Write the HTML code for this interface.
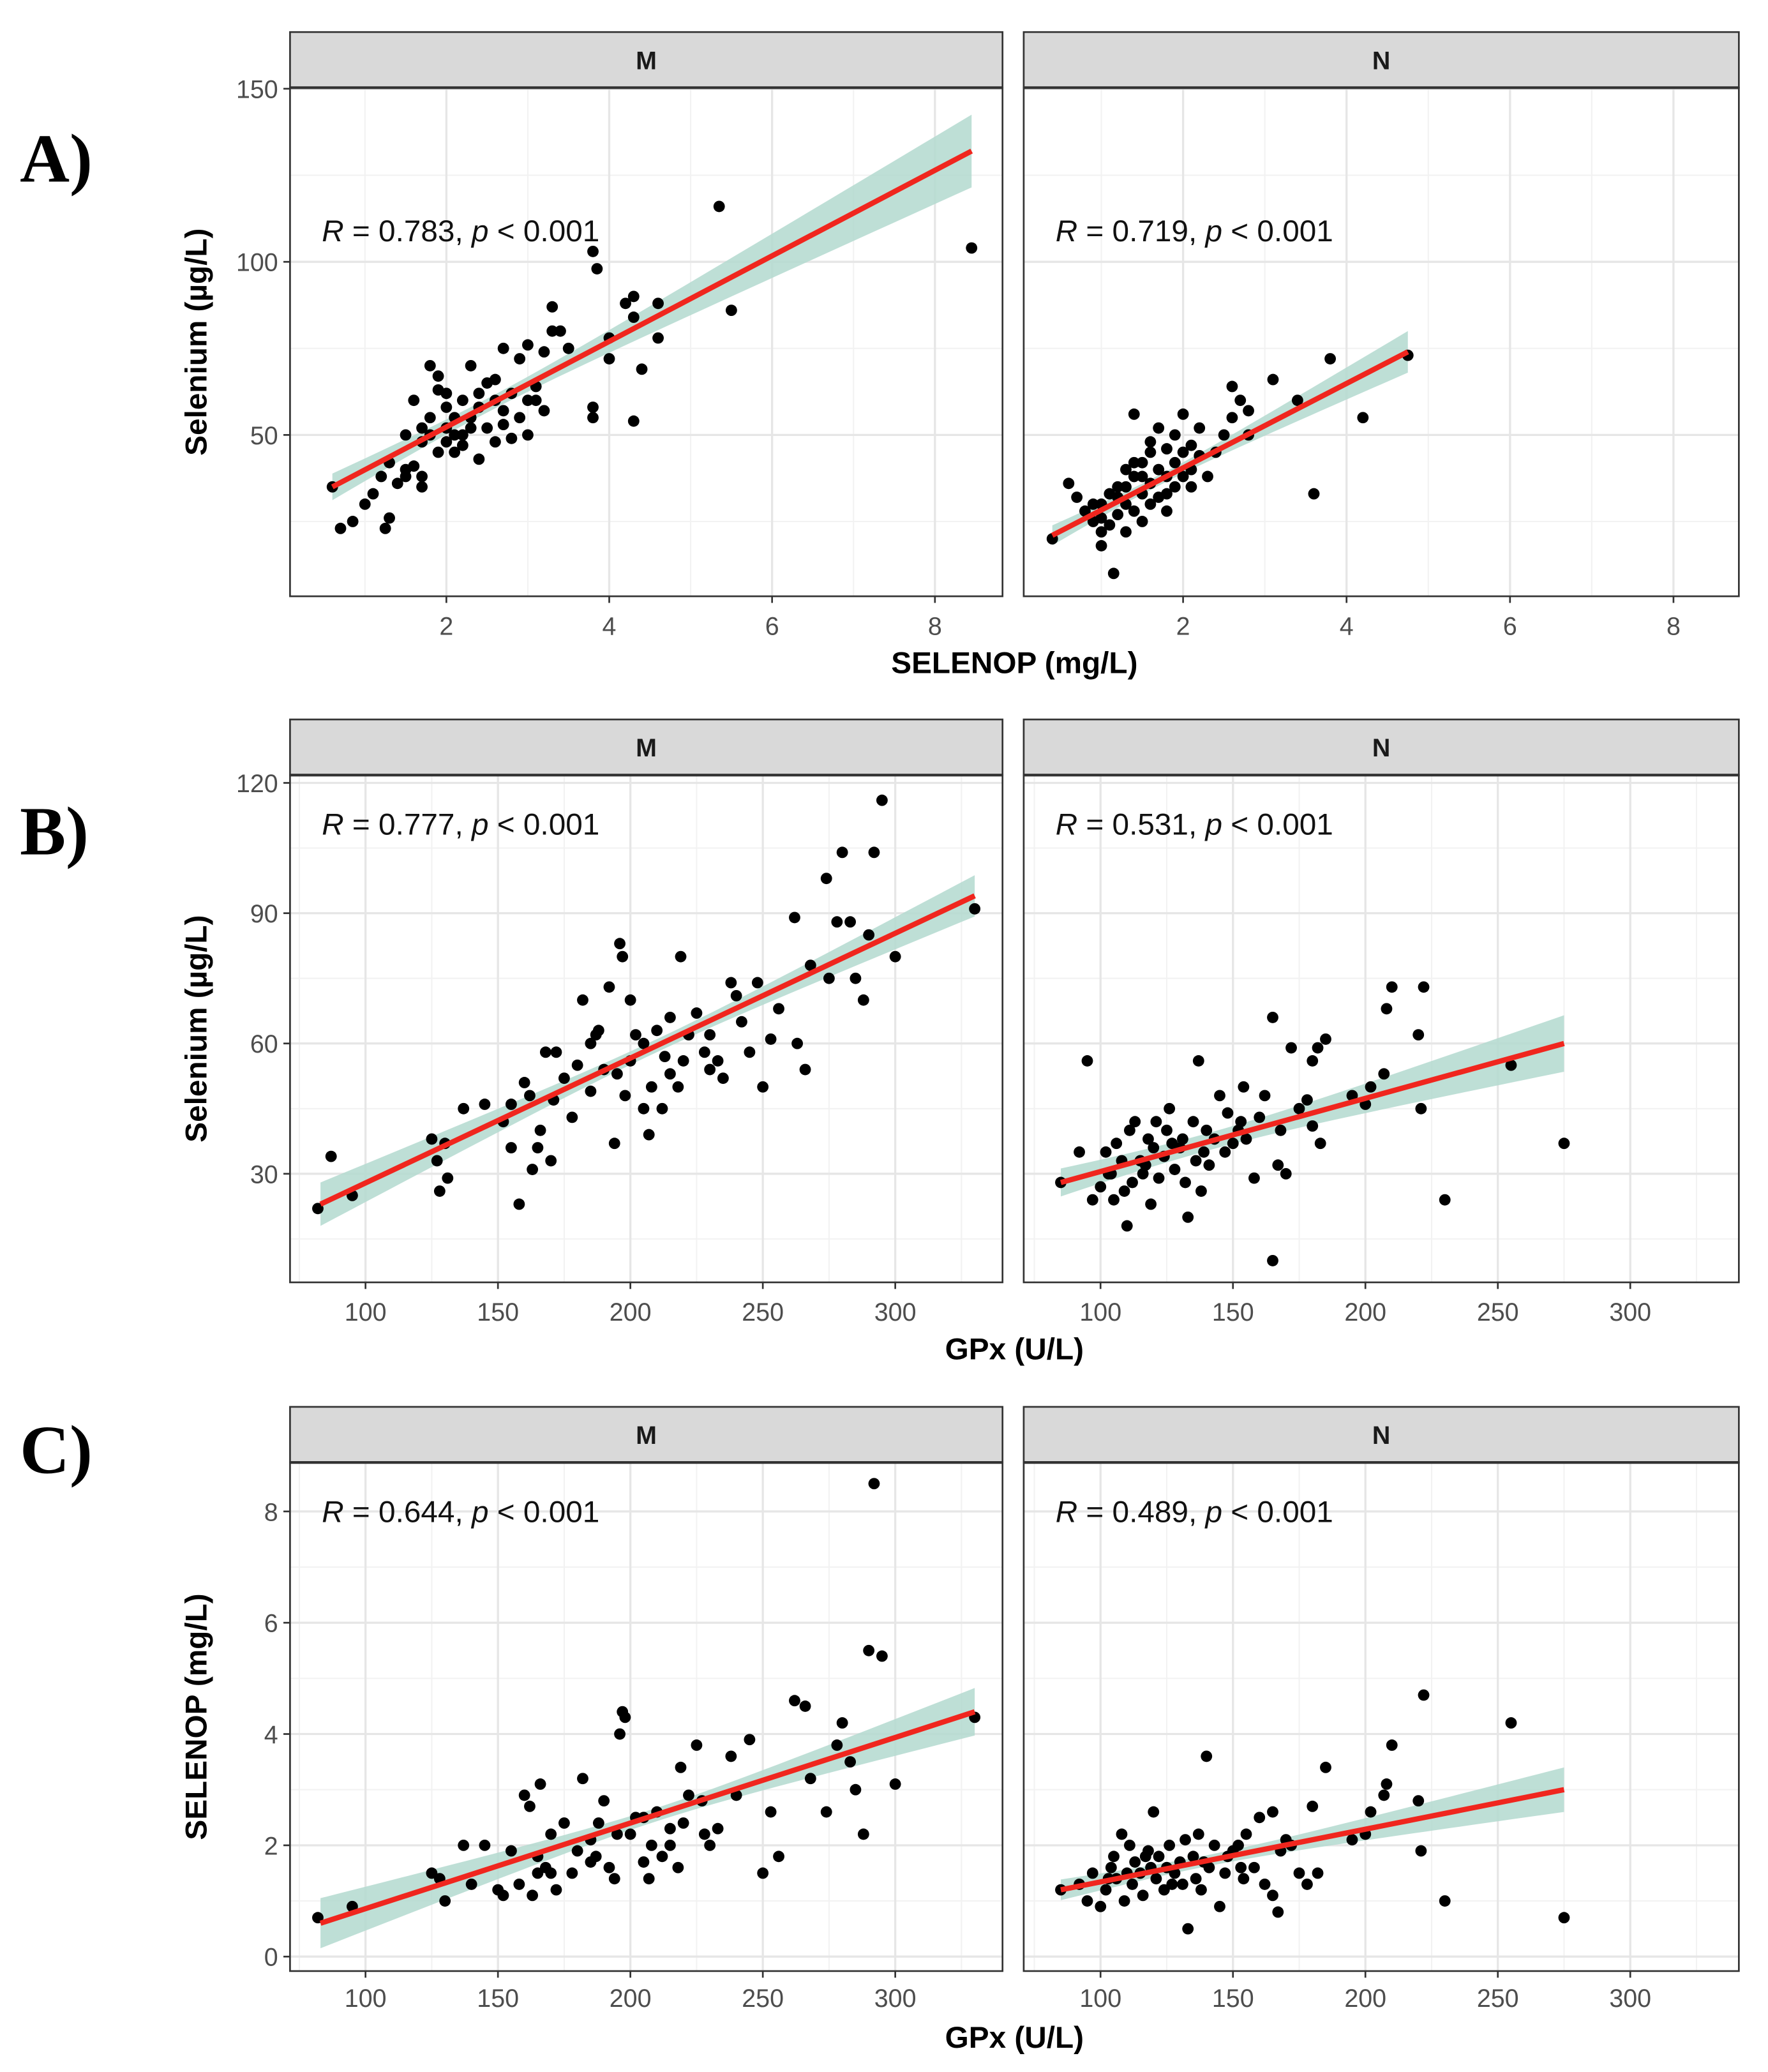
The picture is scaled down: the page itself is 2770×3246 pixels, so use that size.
<!DOCTYPE html>
<html><head><meta charset="utf-8"><style>
html,body{margin:0;padding:0;background:#fff;}
svg{display:block;font-family:"Liberation Sans",Arial,sans-serif;}
</style></head><body>
<svg id="fig" width="2770" height="3246" viewBox="0 0 1335 1564" xmlns="http://www.w3.org/2000/svg">
<rect width="1335" height="1564" fill="#fff"/>
</svg>
<script>
// ---- Data ----
const facetLabels = ["M", "N"];
const rowLabels = ["A)", "B)", "C)"];
const yTitles = ["Selenium (µg/L)", "Selenium (µg/L)", "SELENOP (mg/L)"];
const xTitles = ["SELENOP (mg/L)", "GPx (U/L)", "GPx (U/L)"];
const annotations = [
  ["0.783", "0.719"],
  ["0.777", "0.531"],
  ["0.644", "0.489"]
];
const xTicksA = [2, 4, 6, 8];
const yTicksA = [50, 100, 150];
const xTicksB = [100, 150, 200, 250, 300];
const yTicksB = [30, 60, 90, 120];
const xTicksC = [100, 150, 200, 250, 300];
const yTicksC = [0, 2, 4, 6, 8];

const aM_x = [0.6,0.7,0.85,1,1.1,1.2,1.3,1.25,1.3,1.4,1.5,1.5,1.6,1.7,1.7,1.5,1.6,1.7,1.8,1.8,1.9,1.9,2,2,2,2.1,2.1,2.2,2.2,2.3,2.3,2.4,2.4,2.4,2.5,2.5,2.6,2.6,2.7,2.7,2.8,2.8,2.9,2.9,3,3,3,3.1,3.2,3.2,3.3,3.3,3.4,3.5,3.8,3.8,3.8,3.85,4,4,4.2,4.3,4.3,4.3,4.4,4.6,4.6,5.35,5.5,8.45,1.9,2.2,1.8,2.6,2.0,2.3,2.7,1.7,2.1,3.1];
const aM_y = [35,23,25,30,33,38,42,23,26,36,40,38,41,35,38,50,60,52,50,70,67,63,58,52,48,45,55,60,50,70,55,62,58,43,65,52,60,66,75,57,49,62,72,55,76,60,50,64,74,57,80,87,80,75,55,58,103,98,78,72,88,90,84,54,69,88,78,116,86,104,45,47,55,48,62,52,53,48,50,60];
const aN_x = [0.4,0.6,0.7,0.8,0.9,1,1,1,1.1,1.1,1.15,1.2,1.2,1.3,1.3,1.3,1.4,1.4,1.4,1.5,1.5,1.5,1.6,1.6,1.6,1.7,1.7,1.7,1.8,1.8,1.8,1.9,1.9,1.9,2,2,2,2.1,2.1,2.2,2.3,2.4,2.5,2.6,2.6,2.7,2.8,2.8,3.1,3.4,3.6,3.8,4.2,4.75,1.2,1.5,1.6,1.8,2.1,1.0,1.3,1.4,2.2,0.9];
const aN_y = [20,36,32,28,25,22,30,18,24,33,10,27,35,30,40,22,38,28,56,42,33,25,45,36,30,40,32,52,46,38,28,42,50,35,45,38,56,47,40,44,38,45,50,55,64,60,57,50,66,60,33,72,55,73,32,38,48,33,35,26,35,42,52,30];
const bM_x = [82,87,95,125,127,128,130,131,137,145,152,155,155,158,160,162,163,165,166,168,170,171,172,175,178,180,182,185,187,190,192,194,196,197,198,200,200,202,205,207,208,210,212,213,215,218,219,220,222,225,228,230,233,235,238,240,242,245,248,250,253,256,262,263,266,268,274,275,278,280,283,285,288,290,292,295,300,330,188,205,215,230,185,195];
const bM_y = [22,34,25,38,33,26,37,29,45,46,42,36,46,23,51,48,31,36,40,58,33,47,58,52,43,55,70,49,62,54,73,37,83,80,48,56,70,62,60,39,50,63,45,57,66,50,80,56,62,67,58,62,56,52,74,71,65,58,74,50,61,68,89,60,54,78,98,75,88,104,88,75,70,85,104,116,80,91,63,45,53,54,60,53];
const bN_x = [85,92,95,97,100,102,104,105,106,108,109,110,111,112,113,115,116,118,119,120,121,122,124,125,126,128,130,131,132,133,135,136,137,138,140,141,143,145,147,148,150,152,154,155,158,160,162,165,165,167,170,172,175,178,180,180,182,183,185,195,200,202,207,208,210,220,221,222,230,255,275,103,117,127,139,153,168];
const bN_y = [28,35,56,24,27,35,30,24,37,33,26,18,40,28,42,33,30,38,23,36,42,29,34,40,45,31,36,38,28,20,42,33,56,26,40,32,38,48,35,44,37,40,50,38,29,43,48,10,66,32,30,59,45,47,41,56,59,37,61,48,46,50,53,68,73,62,45,73,24,55,37,30,32,37,35,42,40];
const cM_x = [82,95,125,128,130,137,145,150,152,155,158,160,162,163,165,166,168,170,172,175,178,180,182,185,187,190,192,194,196,197,198,200,202,205,207,208,210,212,215,218,219,220,222,225,228,230,233,238,240,245,250,253,256,262,266,268,274,278,280,283,285,288,290,292,295,300,330,188,205,215,185,195,170,227,140,165];
const cM_y = [0.7,0.9,1.5,1.4,1.0,2.0,2.0,1.2,1.1,1.9,1.3,2.9,2.7,1.1,1.8,3.1,1.6,2.2,1.2,2.4,1.5,1.9,3.2,2.1,1.8,2.8,1.6,1.4,4.0,4.4,4.3,2.2,2.5,1.7,1.4,2.0,2.6,1.8,2.3,1.6,3.4,2.4,2.9,3.8,2.2,2.0,2.3,3.6,2.9,3.9,1.5,2.6,1.8,4.6,4.5,3.2,2.6,3.8,4.2,3.5,3.0,2.2,5.5,8.5,5.4,3.1,4.3,2.4,2.5,2.0,1.7,2.2,1.5,2.8,1.3,1.5];
const cN_x = [85,92,95,97,100,102,104,105,106,108,109,110,111,112,113,115,116,118,119,120,121,122,124,125,126,128,130,131,132,133,135,136,137,138,140,141,143,145,147,148,150,152,154,155,158,160,162,165,165,167,170,172,175,178,180,182,185,195,200,202,207,208,210,220,221,222,230,255,275,103,117,127,139,153,168];
const cN_y = [1.2,1.3,1.0,1.5,0.9,1.2,1.6,1.8,1.4,2.2,1.0,1.5,2.0,1.3,1.7,1.5,1.1,1.9,1.6,2.6,1.4,1.8,1.2,1.6,2.0,1.5,1.7,1.3,2.1,0.5,1.8,1.4,2.2,1.2,3.6,1.6,2.0,0.9,1.5,1.8,1.9,2.0,1.4,2.2,1.6,2.5,1.3,1.1,2.6,0.8,2.1,2.0,1.5,1.3,2.7,1.5,3.4,2.1,2.2,2.6,2.9,3.1,3.8,2.8,1.9,4.7,1.0,4.2,0.7,1.4,1.8,1.3,1.7,1.6,1.9];

// fit: [x0, y0, x1, y1] line endpoints
const fitA = [[0.6, 35, 8.45, 132], [0.4, 21, 4.75, 74]];
const fitB = [[83, 23, 330, 94], [85, 28, 275, 60]];
const fitC = [[83, 0.6, 330, 4.4], [85, 1.2, 275, 3.0]];
// band: [xMean, halfAtMean, halfAtEnd]
const bandA = [[2.5, 2, 10.5], [1.7, 1.5, 6]];
const bandB = [[210, 1.5, 5], [140, 2, 6.5]];
const bandC = [[210, 0.12, 0.45], [140, 0.1, 0.4]];

// ---- Layout (in 1335x1564 viewBox units) ----
const NS = "http://www.w3.org/2000/svg";
const svg = document.getElementById("fig");
function mk(tag, attrs, parent) {
  const e = document.createElementNS(NS, tag);
  for (const k in attrs) e.setAttribute(k, attrs[k]);
  (parent || svg).appendChild(e);
  return e;
}
const panelsX = [[219, 757], [773, 1313]];
const rows = [
  {strip: 24, top: 66, bot: 450, xd: [[0.08, 8.83], [0.05, 8.8]], yd: [3.4, 150.3], xt: xTicksA, yt: yTicksA, xminor: [1,3,5,7], yminor: [25,75,125], tickY: 472, titleY: 500, labelY: 137,
   data: [[aM_x, aM_y], [aN_x, aN_y]], fit: fitA, band: bandA, annY: 174},
  {strip: 543, top: 585, bot: 968, xd: [[71.5, 340.5], [71, 341]], yd: [5, 121.8], xt: xTicksB, yt: yTicksB, xminor: [75,125,175,225,275,325], yminor: [15,45,75,105], tickY: 990, titleY: 1018, labelY: 645,
   data: [[bM_x, bM_y], [bN_x, bN_y]], fit: fitB, band: bandB, annY: 622},
  {strip: 1062, top: 1104, bot: 1488, xd: [[71.5, 340.5], [71, 341]], yd: [-0.26, 8.88], xt: xTicksC, yt: yTicksC, xminor: [75,125,175,225,275,325], yminor: [1,3,5,7], tickY: 1508, titleY: 1538, labelY: 1112,
   data: [[cM_x, cM_y], [cN_x, cN_y]], fit: fitC, band: bandC, annY: 1141}
];

rows.forEach((r, ri) => {
  const g = mk("g", {});
  
  
  const lab = mk("text", {x: 15, y: r.labelY, "font-family": "Liberation Serif, serif", "font-weight": "bold", "font-size": 52}, g);
  lab.textContent = rowLabels[ri];
  
  
  const cy = (r.top + r.bot) / 2;
  const yt = mk("text", {x: 0, y: 0, "font-weight": "bold", "font-size": 23, "text-anchor": "middle", transform: `translate(156,${cy}) rotate(-90)`}, g);
  yt.textContent = yTitles[ri];
  
  
  const xt = mk("text", {x: 766, y: r.titleY + 8, "font-weight": "bold", "font-size": 23, "text-anchor": "middle"}, g);
  xt.textContent = xTitles[ri];
  
  

  panelsX.forEach((px, pi) => {
    const [L, R] = px;
    const [x0, x1] = r.xd[pi];
    const [y0, y1] = r.yd;
    const sx = v => L + (v - x0) / (x1 - x0) * (R - L);
    const sy = v => r.bot - (v - y0) / (y1 - y0) * (r.bot - r.top);
    const pg = mk("g", {}, g);
    
    
    mk("rect", {x: L, y: r.top, width: R - L, height: r.bot - r.top, fill: "#fff"}, pg);
    r.xminor.forEach(v => { const p = sx(v); if (p > L && p < R) mk("line", {x1: p, x2: p, y1: r.top, y2: r.bot, stroke: "#f2f2f2", "stroke-width": 1}, pg); });
    r.yminor.forEach(v => { const p = sy(v); if (p > r.top && p < r.bot) mk("line", {x1: L, x2: R, y1: p, y2: p, stroke: "#f2f2f2", "stroke-width": 1}, pg); });
    r.xt.forEach(v => mk("line", {x1: sx(v), x2: sx(v), y1: r.top, y2: r.bot, stroke: "#e6e6e6", "stroke-width": 1.6}, pg));
    r.yt.forEach(v => mk("line", {x1: L, x2: R, y1: sy(v), y2: sy(v), stroke: "#e6e6e6", "stroke-width": 1.6}, pg));
    const f = r.fit[pi], b = r.band[pi];
    const slope = (f[3] - f[1]) / (f[2] - f[0]);
    const yl = x => f[1] + slope * (x - f[0]);
    const k = Math.sqrt(b[2] * b[2] - b[1] * b[1]) / Math.max(f[2] - b[0], b[0] - f[0]);
    const hw = x => Math.sqrt(b[1] * b[1] + k * k * (x - b[0]) * (x - b[0]));
    let up = [], lo = [];
    for (let i = 0; i <= 40; i++) {
      const x = f[0] + (f[2] - f[0]) * i / 40;
      up.push(sx(x).toFixed(2) + "," + sy(yl(x) + hw(x)).toFixed(2));
      lo.unshift(sx(x).toFixed(2) + "," + sy(yl(x) - hw(x)).toFixed(2));
    }
    const band = mk("polygon", {points: up.concat(lo).join(" "), fill: "#b3d9cf", opacity: 0.85}, pg);
    
    
    const [dx, dy] = r.data[pi];
    dx.forEach((v, i) => {
      const c = mk("circle", {cx: sx(v), cy: sy(dy[i]), r: 4.3, fill: "#000"}, pg);
      
      
    });
    const ln = mk("line", {x1: sx(f[0]), y1: sy(f[1]), x2: sx(f[2]), y2: sy(f[3]), stroke: "#f0261e", "stroke-width": 4}, pg);
    
    
    mk("rect", {x: L, y: r.top, width: R - L, height: r.bot - r.top, fill: "none", stroke: "#333", "stroke-width": 1.3}, pg);
    const st = mk("rect", {x: L, y: r.strip, width: R - L, height: r.top - r.strip, fill: "#d9d9d9", stroke: "#333", "stroke-width": 1.3}, pg);
    
    
    mk("line", {x1: L, x2: R, y1: r.top, y2: r.top, stroke: "#333", "stroke-width": 2}, pg);
    const stt = mk("text", {x: (L + R) / 2, y: (r.strip + r.top) / 2 + 7, "font-weight": "bold", "font-size": 19, "text-anchor": "middle", fill: "#1a1a1a"}, pg);
    stt.textContent = facetLabels[pi];
    
    
    const an = mk("text", {x: L + 24, y: r.annY + 8, "font-size": 23, fill: "#111"}, pg);
    an.innerHTML = '<tspan font-style="italic">R</tspan> = ' + annotations[ri][pi] + ', <tspan font-style="italic">p</tspan> &lt; 0.001';
    
    
    r.xt.forEach(v => {
      mk("line", {x1: sx(v), x2: sx(v), y1: r.bot, y2: r.bot + 5, stroke: "#333", "stroke-width": 1.3}, pg);
      const t = mk("text", {x: sx(v), y: r.tickY + 7, "font-size": 19, fill: "#4d4d4d", "text-anchor": "middle"}, pg);
      t.textContent = v;
      
      
    });
    if (pi === 0) {
      r.yt.forEach(v => {
        mk("line", {x1: L - 5, x2: L, y1: sy(v), y2: sy(v), stroke: "#333", "stroke-width": 1.3}, pg);
        const t = mk("text", {x: L - 9, y: sy(v) + 7, "font-size": 19, fill: "#4d4d4d", "text-anchor": "end"}, pg);
        t.textContent = v;
        
        
      });
    }
  });
});
</script>
</body></html>
